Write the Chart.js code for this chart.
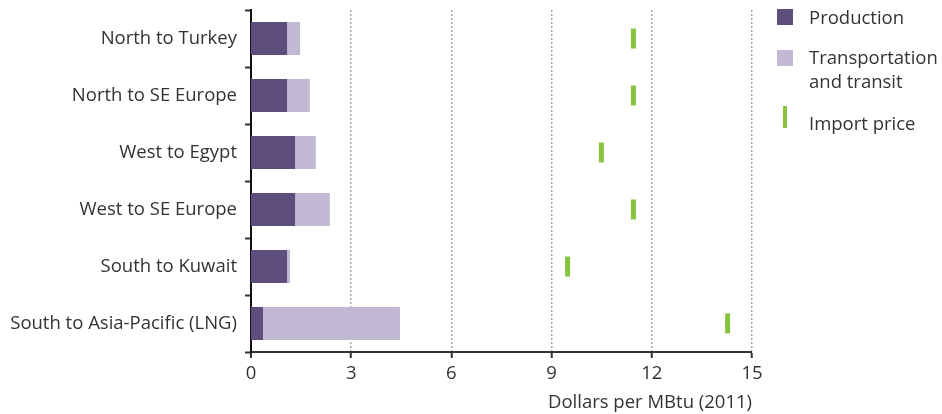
<!DOCTYPE html>
<html>
<head>
<meta charset="utf-8">
<script src="https://cdn.jsdelivr.net/npm/chart.js@4.4.1/dist/chart.umd.min.js"></script>
<style>
  html, body { margin: 0; padding: 0; background: #fff; }
  #wrap { position: relative; width: 942px; height: 414px; }
  #legend { position: absolute; left: 777px; top: 0; font-family: "Open Sans", sans-serif; font-size: 18.5px; color: #333; }
  .item { position: absolute; white-space: nowrap; line-height: 24px; }
  .sw { position: absolute; }
</style>
</head>
<body>
<div id="wrap">
  <canvas id="chart" width="942" height="414"></canvas>
  <div id="legend">
    <div class="sw" style="left:0;top:9px;width:16px;height:16px;background:#5e4e7e"></div>
    <div class="item" style="left:32px;top:5px">Production</div>
    <div class="sw" style="left:0;top:50px;width:16px;height:16px;background:#c1b8d3"></div>
    <div class="item" style="left:32px;top:45px">Transportation<br>and transit</div>
    <div class="sw" style="left:6px;top:106px;width:4px;height:22px;background:#86c440"></div>
    <div class="item" style="left:32px;top:111px">Import price</div>
  </div>
</div>
<script>
const routes = ['North to Turkey', 'North to SE Europe', 'West to Egypt', 'West to SE Europe', 'South to Kuwait', 'South to Asia-Pacific (LNG)'];
const production = [1.08, 1.08, 1.32, 1.32, 1.08, 0.36];
const transport = [0.39, 0.68, 0.62, 1.04, 0.09, 4.1];
const importPrice = [11.45, 11.45, 10.49, 11.45, 9.48, 14.27];
const xTicks = [0, 3, 6, 9, 12, 15];

const font = { family: '"Open Sans", sans-serif', size: 18.5 };
const ink = '#333';

new Chart(document.getElementById('chart'), {
  type: 'bar',
  data: {
    labels: routes,
    datasets: [
      { label: 'Production', data: production, backgroundColor: '#5e4e7e', stack: 'cost', categoryPercentage: 1, barPercentage: 0.58 },
      { label: 'Transportation and transit', data: transport, backgroundColor: '#c1b8d3', stack: 'cost', categoryPercentage: 1, barPercentage: 0.58 },
      {
        type: 'line',
        label: 'Import price',
        data: importPrice,
        stack: 'price',
        indexAxis: 'y',
        showLine: false,
        pointStyle: 'line',
        rotation: 90,
        radius: 10,
        hoverRadius: 10,
        borderWidth: 5,
        borderColor: '#86c440',
        backgroundColor: '#86c440',
      },
    ],
  },
  options: {
    indexAxis: 'y',
    responsive: false,
    animation: false,
    layout: { autoPadding: false, padding: { top: 10, right: 190, left: 0, bottom: 0 } },
    plugins: { legend: { display: false }, tooltip: { enabled: false } },
    scales: {
      x: {
        stacked: true,
        min: 0,
        max: 15,
        afterBuildTicks: (s) => { s.ticks = xTicks.map((v) => ({ value: v })); },
        afterFit: (s) => { s.height = 62; },
        ticks: { color: ink, font, padding: 5, maxRotation: 0 },
        border: { display: true, color: ink, width: 2, dash: [2, 2] },
        grid: {
          color: '#a8a8a8',
          lineWidth: (c) => (c.tick && c.tick.value === 0 ? 0 : 1.5),
          tickColor: ink,
          tickWidth: 2,
          tickLength: 6,
          tickBorderDash: [1, 0],
        },
        title: { display: true, text: 'Dollars per MBtu (2011)', align: 'end', color: ink, font, padding: { top: 3, bottom: 0 } },
      },
      y: {
        stacked: true,
        afterFit: (s) => { s.width = 251; s.paddingTop = 0; s.paddingBottom = 0; },
        ticks: { color: ink, font, padding: 8 },
        border: { display: true, color: '#111', width: 2 },
        grid: { drawOnChartArea: false, tickColor: ink, tickWidth: 2, tickLength: 6 },
      },
    },
  },
});
</script>
</body>
</html>
